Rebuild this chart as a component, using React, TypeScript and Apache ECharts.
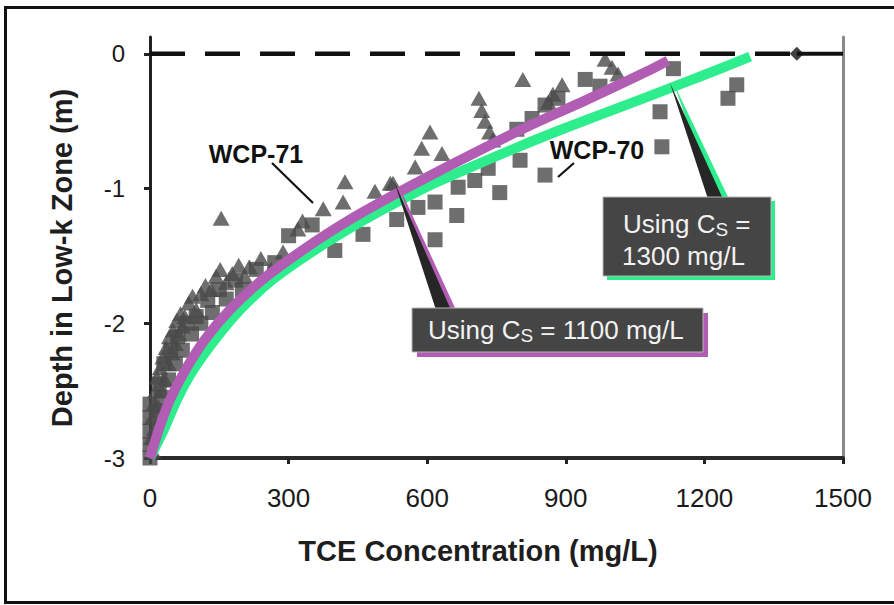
import React, { useEffect, useRef } from "react";
import * as echarts from "echarts";

// WCP-70 measurements (squares): [TCE mg/L, depth m]
const wcp70: number[][] = [
  [0, -2.6], [0, -2.7], [0, -2.8], [0, -2.9], [0, -3.0],
  [15, -2.65], [25, -2.55], [40, -2.42], [55, -2.3], [70, -2.2], [90, -2.08],
  [110, -2.0], [135, -1.92], [165, -1.82], [200, -1.75],
  [20, -2.45], [30, -2.3], [45, -2.2], [60, -2.1], [80, -2.0], [100, -1.95],
  [125, -1.83], [150, -1.75], [185, -1.68], [230, -1.6], [270, -1.55],
  [300, -1.35], [351, -1.27], [400, -1.46], [461, -1.34], [534, -1.23],
  [580, -1.14], [617, -1.1], [617, -1.38], [664, -1.2], [667, -0.99],
  [703, -0.94], [732, -0.85], [757, -1.03], [801, -0.79], [855, -0.9],
  [794, -0.56], [827, -0.48], [855, -0.38], [883, -0.33], [942, -0.19],
  [974, -0.24], [1104, -0.43], [1108, -0.69], [1133, -0.11], [1251, -0.33],
  [1270, -0.23],
];

// WCP-71 measurements (triangles): [TCE mg/L, depth m]
const wcp71: number[][] = [
  [6, -2.95], [3, -2.85], [10, -2.78], [5, -2.7], [8, -2.6], [18, -2.62],
  [12, -2.5], [25, -2.5], [15, -2.4], [32, -2.42], [22, -2.33], [40, -2.3],
  [28, -2.25], [48, -2.22], [35, -2.18], [55, -2.15], [42, -2.1], [62, -2.08],
  [50, -2.05], [70, -2.02], [58, -1.98], [66, -1.93],
  [75, -1.95], [84, -1.85], [92, -1.8], [100, -1.9], [110, -1.78], [120, -1.72],
  [132, -1.75], [143, -1.65], [152, -1.6], [165, -1.7], [178, -1.63],
  [192, -1.57], [205, -1.65], [215, -1.58], [240, -1.52], [262, -1.6],
  [288, -1.47], [154, -1.22], [320, -1.3], [330, -1.24], [375, -1.15],
  [418, -1.1], [422, -0.95], [487, -1.02], [520, -0.96], [526, -0.96],
  [574, -0.84], [588, -0.7], [606, -0.58], [632, -0.74], [712, -0.33],
  [718, -0.42], [725, -0.5], [735, -0.58], [742, -0.64], [807, -0.19],
  [862, -0.36], [872, -0.3], [892, -0.23], [985, -0.04], [1000, -0.1],
  [1013, -0.15],
];

// Model curves
const cs1100: number[][] = [
  [0, -3], [19, -2.79], [43, -2.57], [76, -2.35], [119, -2.12], [173, -1.9],
  [242, -1.68], [329, -1.46], [433, -1.23], [548, -1.01], [671, -0.79],
  [805, -0.56], [946, -0.34], [1082, -0.12], [1121, -0.05],
];
const cs1300: number[][] = [
  [0, -3], [30, -2.79], [58, -2.57], [93, -2.35], [141, -2.12], [195, -1.9],
  [264, -1.68], [355, -1.46], [465, -1.23], [546, -1.08], [610, -0.97],
  [682, -0.86], [784, -0.71], [892, -0.56], [1061, -0.34], [1227, -0.12],
  [1299, -0.02],
];

const zeroDashed: number[][] = [[0, 0], [1400, 0]];
const zeroSolid: number[][] = [[1400, 0], [1500, 0]];
const diamondPt: number[][] = [[1400, 0]];

const xTicks = [0, 300, 600, 900, 1200, 1500];
const yTicks = [-3, -2, -1, 0];

const FONT = '"Liberation Sans", Arial, Helvetica, sans-serif';
const GRAY = "#4a4a4a";
const PURPLE = "#b15db3";
const GREEN = "#2ded8c";

export default function App() {
  const ref = useRef<HTMLDivElement>(null);
  useEffect(() => {
    if (!ref.current) return;
    const chart = echarts.init(ref.current, undefined, { renderer: "svg" });
    const option: any = {
      animation: false,
      backgroundColor: "#ffffff",
      grid: { left: 150, right: 51, top: 37, bottom: 147, containLabel: false, outerBoundsMode: "none" },
      xAxis: {
        type: "value",
        min: xTicks[0],
        max: xTicks[xTicks.length - 1],
        interval: 300,
        axisLine: { show: true, onZero: false, lineStyle: { color: "#2b2b2b", width: 4 } },
        axisTick: { show: true, length: 6, lineStyle: { color: "#222", width: 3 } },
        axisLabel: {
          fontSize: 26, color: "#1a1a1a", margin: 27, fontFamily: FONT,
          formatter: (v: number) => String(v),
        },
        splitLine: { show: false },
      },
      yAxis: [
        {
          type: "value",
          min: -3,
          max: 0.125,
          interval: 1,
          position: "left",
          axisLine: { show: true, onZero: false, lineStyle: { color: "#222", width: 3 } },
          axisTick: { show: true, length: 6, customValues: yTicks, lineStyle: { color: "#222", width: 3 } },
          axisLabel: {
            fontSize: 24,
            color: "#1a1a1a",
            margin: 25,
            fontFamily: FONT,
            customValues: yTicks,
            formatter: (v: number) => (Number.isInteger(v) ? String(v) : ""),
          },
          splitLine: { show: false },
        },
        {
          type: "value",
          min: -3,
          max: 0.125,
          position: "right",
          axisLine: { show: true, onZero: false, lineStyle: { color: "#8a8a8a", width: 3 } },
          axisTick: { show: false },
          axisLabel: { show: false },
          splitLine: { show: false },
        },
      ],
      series: [
        {
          name: "WCP-70",
          type: "scatter",
          data: wcp70,
          symbol: "rect",
          symbolSize: 15,
          itemStyle: { color: GRAY },
          z: 2,
        },
        {
          name: "WCP-71",
          type: "scatter",
          data: wcp71,
          symbol: "triangle",
          symbolSize: [17, 15],
          itemStyle: { color: GRAY },
          z: 2,
        },
        {
          name: "Cs = 1300",
          type: "line",
          data: cs1300,
          smooth: 0.25,
          showSymbol: false,
          lineStyle: { color: GREEN, width: 10 },
          z: 3,
        },
        {
          name: "Cs = 1100",
          type: "line",
          data: cs1100,
          smooth: 0.25,
          showSymbol: false,
          lineStyle: { color: PURPLE, width: 10 },
          z: 4,
        },
        {
          type: "line",
          data: zeroDashed,
          showSymbol: false,
          lineStyle: { color: "#111", width: 4.5, type: [35, 20] },
          z: 5,
        },
        {
          type: "line",
          data: zeroSolid,
          showSymbol: false,
          lineStyle: { color: "#111", width: 4 },
          z: 5,
        },
        {
          type: "scatter",
          data: diamondPt,
          symbol: "diamond",
          symbolSize: [14, 14],
          itemStyle: { color: "#111" },
          z: 6,
        },
      ],
      graphic: [
        {
          type: "rect",
          z: 100,
          silent: true,
          shape: { x: 5.5, y: 7.5, width: 900, height: 595 },
          style: { fill: "none", stroke: "#111", lineWidth: 3 },
        },
        {
          type: "text",
          z: 100,
          style: {
            text: "TCE Concentration (mg/L)",
            x: 478, y: 551, align: "center", verticalAlign: "middle",
            fontSize: 29, fontWeight: "bold", fontFamily: FONT, fill: "#1e1e1e",
          },
        },
        {
          type: "text",
          z: 100,
          x: 62, y: 258, rotation: Math.PI / 2,
          style: {
            text: "Depth in Low-k Zone (m)",
            x: 0, y: 0, align: "center", verticalAlign: "middle",
            fontSize: 29, fontWeight: "bold", fontFamily: FONT, fill: "#1e1e1e",
          },
        },
        {
          type: "text",
          z: 100,
          style: {
            text: "WCP-71", x: 256, y: 154, align: "center", verticalAlign: "middle",
            fontSize: 25, fontWeight: "bold", fontFamily: FONT, fill: "#111",
          },
        },
        {
          type: "line", z: 100,
          shape: { x1: 272, y1: 163, x2: 313, y2: 203 },
          style: { stroke: "#111", lineWidth: 2.2 },
        },
        {
          type: "text",
          z: 100,
          style: {
            text: "WCP-70", x: 597, y: 150, align: "center", verticalAlign: "middle",
            fontSize: 25, fontWeight: "bold", fontFamily: FONT, fill: "#111",
          },
        },
        {
          type: "line", z: 100,
          shape: { x1: 558, y1: 177, x2: 574, y2: 163 },
          style: { stroke: "#111", lineWidth: 2.2 },
        },
        // Callout 1 (Cs = 1100)
        {
          type: "polygon", z: 100,
          shape: { points: [[397, 182], [441, 310], [456, 310]] },
          style: { fill: PURPLE },
        },
        {
          type: "polygon", z: 101,
          shape: { points: [[394, 181], [436, 310], [451, 310]] },
          style: { fill: "#262626" },
        },
        {
          type: "rect", z: 102,
          shape: { x: 417, y: 313, width: 291, height: 44 },
          style: { fill: PURPLE },
        },
        {
          type: "rect", z: 103,
          shape: { x: 412, y: 308, width: 291, height: 44 },
          style: { fill: "#454545", stroke: "#b5b5b5", lineWidth: 1 },
        },
        {
          type: "text", z: 104,
          style: {
            text: "{a|Using C}{s|S}{a| = 1100 mg/L}",
            x: 428, y: 330, align: "left", verticalAlign: "middle",
            fontFamily: FONT, fill: "#f2f2f2",
            rich: {
              a: { fontSize: 26, lineHeight: 30, fill: "#f2f2f2", fontFamily: FONT },
              s: { fontSize: 19, lineHeight: 22, verticalAlign: "bottom", fill: "#f2f2f2", fontFamily: FONT },
            },
          },
        },
        // Callout 2 (Cs = 1300)
        {
          type: "polygon", z: 100,
          shape: { points: [[674, 84], [714, 199], [729, 199]] },
          style: { fill: GREEN },
        },
        {
          type: "polygon", z: 101,
          shape: { points: [[670, 83], [708, 199], [723, 199]] },
          style: { fill: "#262626" },
        },
        {
          type: "rect", z: 102,
          shape: { x: 607, y: 201, width: 168, height: 79 },
          style: { fill: GREEN },
        },
        {
          type: "rect", z: 103,
          shape: { x: 603, y: 197, width: 168, height: 79 },
          style: { fill: "#454545", stroke: "#b5b5b5", lineWidth: 1 },
        },
        {
          type: "text", z: 104,
          style: {
            text: "{a|Using C}{s|S}{a| =}",
            x: 623, y: 224, align: "left", verticalAlign: "middle",
            fontFamily: FONT, fill: "#f2f2f2",
            rich: {
              a: { fontSize: 26, lineHeight: 30, fill: "#f2f2f2", fontFamily: FONT },
              s: { fontSize: 19, lineHeight: 22, verticalAlign: "bottom", fill: "#f2f2f2", fontFamily: FONT },
            },
          },
        },
        {
          type: "text", z: 104,
          style: {
            text: "1300 mg/L",
            x: 622, y: 256, align: "left", verticalAlign: "middle",
            fontSize: 26, fontFamily: FONT, fill: "#f2f2f2",
          },
        },
      ],
    };
    chart.setOption(option);
    return () => chart.dispose();
  }, []);
  return (
    <div
      ref={ref}
      style={{ position: "absolute", left: 0, top: 0, width: 894, height: 605, background: "#fff" }}
    />
  );
}
